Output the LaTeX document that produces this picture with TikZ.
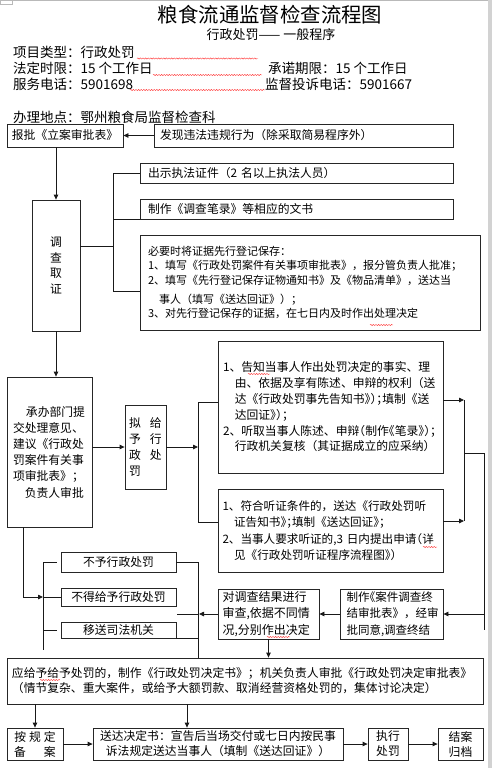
\documentclass[tikz,border=0pt]{standalone}
\usepackage{fontspec}
\newfontfamily\cjk{Noto Sans CJK SC}
\newfontfamily\cjkh[RawFeature=+halt]{Noto Sans CJK SC}
\usetikzlibrary{arrows.meta,decorations.pathmorphing}
\newcommand\myfs[2]{\fontsize{#1}{#2}\selectfont}
\newcommand\hp[1]{{\cjkh #1}}
\begin{document}
\begin{tikzpicture}[x=1pt,y=-1pt,
  box/.style={draw=black!85, line width=0.8pt, inner sep=0pt, font=\cjk\myfs{11.8}{15.5}},
  ln/.style={draw=black!90, line width=0.8pt},
  arr/.style={ln, -{Triangle[length=5pt,width=4.5pt]}},
  hdr/.style={anchor=base west, inner sep=0pt, font=\cjk\myfs{13.5}{16}},
  wavy/.style={draw=red!75, line width=0.45pt, decorate, decoration={snake, amplitude=0.6pt, segment length=2.6pt}}]
\useasboundingbox (0,0) rectangle (492,768);
% page edges
\fill[gray!35] (488,0) rectangle (492,768);
\draw[gray!55, line width=1pt] (0,0.5) -- (488,0.5);
\draw[gray!55, line width=0.5pt] (0.3,0) rectangle (12,4);

% title and header
\node[inner sep=0pt, font=\cjk\myfs{20.4}{24}] (title) at (270,15) {粮食流通监督检查流程图};
\node[inner sep=0pt, font=\cjk\myfs{13}{16}] (subtitle) at (271,35) {行政处罚——\ 一般程序};
\node[hdr] (h1) at (13,57) {项目类型：行政处罚};
\node[hdr] (h2) at (13,74) {法定时限：15 个工作日};
\node[hdr] (h3) at (268,74) {承诺期限：15 个工作日};
\node[hdr] (h4) at (13,89) {服务电话：5901698};
\node[hdr] (h5) at (265,89) {监督投诉电话：5901667};
\node[hdr] (h6) at (13,122) {办理地点：鄂州粮食局监督检查科};
\draw[wavy] (137,58.5) -- (258,58.5);
\draw[wavy] (153,75) -- (262,75);
\draw[wavy] (130,90) -- (265,90);

% boxes
\node[box, minimum width=116, minimum height=23] (lian) at (65,135.5) {报批《立案审批表》};
\node[box, minimum width=299, minimum height=23, text width=287, align=left] (faxian) at (303.5,135.5) {发现违法违规行为（除采取简易程序外）};
\node[box, minimum width=313, minimum height=20, text width=297, align=left] (chushi) at (296.5,173) {出示执法证件（2~名以上执法人员）};
\node[box, minimum width=313, minimum height=20, text width=297, align=left] (zhizuo) at (296.5,209) {制作《调查笔录》等相应的文书};
\node[box, minimum width=340, minimum height=95, text width=324, align=left, font=\cjk\myfs{11}{14.5}] (bixu) at (310,282.5)
  {必要时将证据先行登记保存：\\
   1、填写《行政处罚案件有关事项审批表》，报分管负责人批准；\\
   2、填写《先行登记保存证物通知书》及《物品清单》，送达当\\[4.5pt]
   \hspace*{1em}事人（填写《送达回证》）；\\
   3、对先行登记保存的证据，在七日内及时作出处理决定};
\node[box, minimum width=48, minimum height=131, align=center, font=\cjk\myfs{11.8}{15.5}] (diaocha) at (56,265.5) {调\\查\\取\\证};
\node[box, minimum width=85, minimum height=150, text width=73, align=left, font=\cjk\myfs{11.8}{16.2}] (chengban) at (49.5,452)
  {\hspace*{1.1em}承办部门提\\交处理意见、\\建议《行政处\\罚案件有关事\\项审批表》；\\\hspace*{1em}负责人审批};
\node[box, minimum width=41, minimum height=84, align=left, font=\cjk\myfs{11.8}{16}] (ni) at (145.5,447)
  {拟\hspace{9pt}给\\予\hspace{9pt}行\\政\hspace{9pt}处\\罚};
\node[box, minimum width=225, minimum height=132, text width=215, align=left, font=\cjk\myfs{11.8}{15.8}] (gaozhi) at (330.5,407)
  {1、告知当事人作出处罚决定的事实、理\\
   \hspace*{1em}由、依据及享有陈述、申辩的权利（送\\
   \hspace*{1em}达《行政处罚事先告知书\hp{》）；}填制《送\\
   \hspace*{1em}达回证\hp{》）；}\\
   2、听取当事人陈述、申辩\hp{（}制作\hp{《}笔录\hp{》）；}\\
   \hspace*{1em}行政机关复核（其证据成立的应采纳）};
\node[box, minimum width=225, minimum height=83, text width=216, align=left, font=\cjk\myfs{11.6}{16.3}] (tingzheng) at (330.5,530.5)
  {1、符合听证条件的，送达《行政处罚听\\
   \hspace*{1em}证告知书\hp{》；}填制《送达回证\hp{》；}\\
   \mbox{2、当事人要求听证的,3~日内提出申请\hp{（}详}\\
   \hspace*{1em}见《行政处罚听证程序流程图\hp{》）}};
\node[box, minimum width=115, minimum height=20] (buyu) at (118.5,562) {不予行政处罚};
\node[box, minimum width=115, minimum height=18] (bude) at (118.5,597) {不得给予行政处罚};
\node[box, minimum width=115, minimum height=16] (yisong) at (118.5,630) {移送司法机关};
\node[box, minimum width=101, minimum height=50, text width=92, align=left, font=\cjk\myfs{12}{16.5}] (shencha) at (268.5,614)
  {对调查结果进行\\审查,依据不同情\\况,分别作出决定};
\node[box, minimum width=103, minimum height=50, text width=90, align=left, font=\cjk\myfs{11.5}{16.5}] (zhongjie) at (391.5,614)
  {制作\hp{《}案件调查终\\结审批表》，经审\\批同意,调查终结};
\node[box, minimum width=476, minimum height=46, text width=466, align=left, font=\cjk\myfs{11.8}{15}] (yinggei) at (245,681)
  {应给予给予处罚的，制作《行政处罚决定书》；机关负责人审批《行政处罚决定审批表》\\
   （情节复杂、重大案件，或给予大额罚款、取消经营资格处罚的，集体讨论决定）};
\node[box, minimum width=56, minimum height=32, align=center, font=\cjk\myfs{11.8}{15}] (beian) at (35,744)
  {按\hspace{3pt}规\hspace{3pt}定\\备\hspace{18pt}案};
\node[box, minimum width=250, minimum height=32, align=center, font=\cjk\myfs{11.8}{15}] (songda) at (218,744)
  {送达决定书：宣告后当场交付或七日内按民事\\诉法规定送达当事人（填制《送达回证》）};
\node[box, minimum width=40, minimum height=32, align=center, font=\cjk\myfs{11.8}{15}] (zhixing) at (388,744) {执行\\处罚};
\node[box, minimum width=45, minimum height=32, align=center, font=\cjk\myfs{11.8}{15}] (jiean) at (460.5,744) {结案\\归档};

% small spell-check marks
\draw[wavy] (370,325) -- (393,325);
\draw[wavy] (248,374) -- (270,374);
\draw[wavy] (423,547) -- (437,547);
\draw[wavy] (267,637) -- (290,637);
\draw[wavy] (40,680) -- (60,680);

% connectors
\draw[arr] (faxian.west) -- (lian.east);
\draw[arr] (diaocha.north |- lian.south) -- (diaocha.north);
\coordinate (jA) at (113,173);
\coordinate (jB) at (113,291);
\coordinate (jC) at (113,246);
\draw[ln] (jA) -- (chushi.west);
\draw[ln] (jA) -- (jB);
\draw[ln] (zhizuo.south west) -- (zhizuo.south west -| jA);
\draw[ln] (jB) -- (jB -| bixu.west);
\draw[ln] (diaocha.east |- jC) -- (jC);
\draw[arr] (diaocha.south) -- (diaocha.south |- chengban.north);
\draw[arr] (chengban.east |- ni.west) -- (ni.west);
\coordinate (kA) at (198,402);
\coordinate (kB) at (198,522);
\draw[arr] (ni.east) -- (ni.east -| kA);
\draw[ln] (kA) -- (kB);
\draw[ln] (kA) -- (kA -| gaozhi.west);
\draw[ln] (kB) -- (kB -| tingzheng.west);
\coordinate (mA) at (464,400);
\coordinate (mB) at (464,521);
\coordinate (mC) at (464,453);
\coordinate (mD) at (484,453);
\coordinate (mE) at (484,630);
\draw[arr] (mA -| gaozhi.east) -- (mA);
\draw[arr] (mB -| tingzheng.east) -- (mB);
\draw[ln] (mA) -- (mB);
\draw[ln] (mC) -- (mD) -- (mE);
\draw[arr] (mD |- zhongjie.east) -- (zhongjie.east);
\draw[arr] (zhongjie.west) -- (shencha.east);
\coordinate (nA) at (199,614);
\coordinate (nB) at (177,614);
\draw[arr] (shencha.west) -- (nA);
\draw[ln] (nA) -- (nB);
\coordinate (pA) at (198,562);
\draw[ln] (buyu.east) -- (pA) -- (pA |- yinggei.north);
\draw[ln] (yisong.south east) -- (yisong.south east -| pA);
\draw[arr] (shencha.south) -- (shencha.south |- yinggei.north);
\coordinate (qA) at (23,597);
\coordinate (qB) at (43,597);
\coordinate (qC) at (43,562);
\coordinate (qD) at (43,650);
\coordinate (qE) at (57,562);
\coordinate (qF) at (57,630);
\coordinate (qG) at (43,630);
\draw[ln] (chengban.south -| qA) -- (qA);
\draw[arr] (qA) -- (qB);
\draw[ln] (qB) -- (bude.west);
\draw[ln] (qC) -- (qD);
\draw[ln] (qC) -- (qE);
\draw[ln] (qG) -- (qF);
\draw[arr] (beian.north |- yinggei.south) -- (beian.north);
\coordinate (rA) at (187,704);
\draw[arr] (rA) -- (rA |- songda.north);
\draw[arr] (beian.east) -- (songda.west);
\draw[arr] (songda.east) -- (zhixing.west);
\draw[arr] (zhixing.east) -- (jiean.west);
\end{tikzpicture}
\end{document}
